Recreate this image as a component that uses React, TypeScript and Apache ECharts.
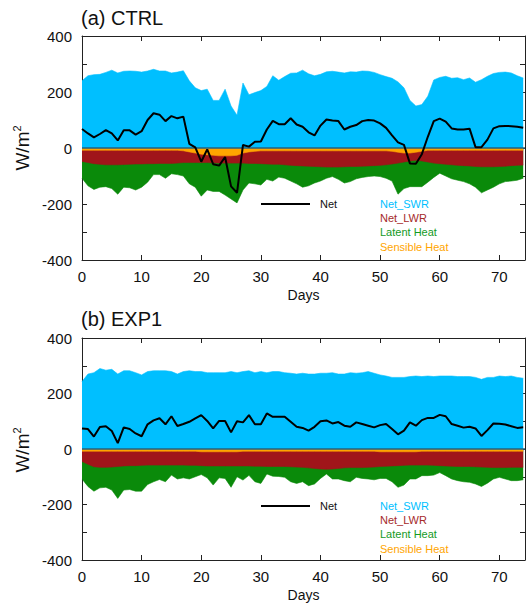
import React, { useEffect, useRef } from "react";
import * as echarts from "echarts";

// ---------- data (W/m^2), one value per day ----------
const days: number[] = Array.from({ length: 75 }, (_, i) => i);

// (a) CTRL
const swrA = [240,258,262,263,270,278,268,274,275,274,271,275,281,275,275,268,271,276,240,215,205,210,170,170,210,150,117,232,190,198,205,220,258,242,255,267,268,278,265,258,263,272,274,271,268,272,271,275,274,270,262,255,249,236,215,170,150,155,185,243,252,256,249,251,244,250,235,244,256,266,270,271,268,258,250];
const shA = [-8,-8,-8,-8,-8,-8,-8,-8,-8,-8,-8,-8,-8,-8,-8,-8,-8,-10,-14,-18,-22,-24,-26,-28,-28,-28,-26,-18,-14,-12,-10,-10,-10,-10,-10,-10,-10,-10,-10,-10,-10,-10,-10,-10,-10,-10,-10,-10,-10,-10,-10,-10,-12,-15,-18,-18,-15,-12,-8,-8,-8,-8,-8,-8,-8,-8,-8,-8,-8,-8,-8,-8,-8,-8,-8];
const lwrA = [-40,-44,-48,-50,-52,-52,-52,-51,-50,-49,-49,-48,-48,-47,-47,-47,-46,-42,-38,-34,-30,-28,-27,-26,-26,-26,-28,-36,-41,-43,-46,-47,-48,-48,-50,-52,-53,-54,-55,-56,-57,-58,-58,-58,-57,-56,-56,-55,-54,-53,-52,-50,-45,-39,-32,-28,-29,-34,-42,-46,-48,-50,-52,-54,-55,-56,-58,-59,-59,-59,-58,-57,-55,-54,-53];
const lhA = [-60,-83,-92,-82,-78,-85,-105,-81,-84,-93,-83,-66,-39,-40,-53,-37,-41,-48,-76,-88,-120,-98,-102,-101,-114,-128,-142,-96,-70,-73,-76,-55,-60,-46,-48,-56,-65,-76,-70,-59,-51,-40,-34,-44,-58,-54,-44,-40,-38,-37,-40,-48,-61,-111,-95,-92,-94,-92,-72,-51,-34,-42,-50,-53,-57,-64,-74,-93,-83,-73,-62,-55,-55,-53,-47];
const netA = [68,52,38,50,64,52,27,63,63,48,60,100,124,119,96,114,106,112,15,2,-49,-5,-58,-63,-32,-137,-160,11,5,22,23,66,97,85,85,106,84,76,56,45,80,102,98,96,66,76,82,96,100,98,88,72,45,20,11,-55,-56,-22,40,96,105,94,70,66,66,69,3,3,30,70,78,79,78,76,72];

// (b) EXP1
const swrB = [243,270,275,290,284,287,270,282,282,275,267,279,282,282,282,279,270,279,282,279,279,275,275,275,275,279,275,279,282,275,279,275,279,279,275,273,270,273,270,270,273,273,275,270,270,275,273,275,279,273,267,263,258,258,258,261,263,261,263,261,263,263,263,261,261,261,258,251,258,258,263,261,263,258,255];
const shB = [-8,-8,-8,-8,-8,-8,-8,-8,-8,-8,-8,-8,-8,-8,-8,-8,-8,-8,-8,-8,-10,-10,-10,-10,-10,-10,-10,-8,-8,-8,-8,-8,-8,-8,-8,-8,-8,-8,-8,-8,-8,-8,-8,-8,-8,-8,-8,-8,-8,-8,-10,-10,-10,-10,-10,-10,-10,-8,-8,-8,-8,-8,-8,-8,-8,-8,-8,-8,-8,-8,-8,-8,-8,-8,-8];
const lwrB = [-37,-47,-56,-58,-58,-57,-55,-53,-52,-52,-51,-50,-50,-50,-50,-50,-50,-50,-51,-51,-50,-51,-51,-51,-51,-51,-51,-53,-53,-54,-54,-55,-55,-55,-55,-56,-57,-58,-60,-62,-64,-65,-64,-62,-60,-59,-59,-59,-58,-57,-53,-52,-51,-50,-49,-48,-48,-50,-50,-51,-52,-53,-54,-55,-55,-55,-56,-57,-58,-59,-59,-59,-58,-58,-58];
const lhB = [-63,-80,-88,-74,-72,-83,-115,-87,-86,-92,-93,-70,-60,-52,-60,-36,-50,-46,-49,-41,-32,-43,-69,-43,-45,-77,-39,-51,-34,-56,-62,-27,-35,-36,-39,-54,-59,-52,-64,-56,-34,-17,-36,-38,-46,-51,-35,-39,-42,-46,-43,-44,-57,-78,-71,-50,-50,-38,-38,-35,-25,-35,-46,-51,-55,-57,-62,-70,-57,-41,-35,-41,-48,-48,-45];
const netB = [74,72,45,79,82,65,21,78,72,56,46,89,103,111,89,118,83,90,98,110,122,101,74,101,101,60,100,96,122,89,89,128,116,116,116,98,80,76,66,80,100,103,92,97,84,80,96,90,84,78,86,90,72,53,66,96,84,104,112,112,123,118,90,84,77,80,74,47,68,92,91,88,82,76,78];

const yTicks = [-400, -200, 0, 200, 400];
const xTicks = [0, 10, 20, 30, 40, 50, 60, 70];

const FONT = "'Liberation Sans', Arial, Helvetica, sans-serif";
const C_SWR = "#00BFFF";
const C_LWR = "#A0151A";
const C_LH = "#0A8A0A";
const C_SH = "#FFA500";

const pairs = (v: number[]) => days.map((d, i) => [d, v[i]]);
// cumulative (stacked) lower bounds of the downward fluxes
const cum = (...arrs: number[][]) => days.map((_, i) => arrs.reduce((s, a) => s + a[i], 0));

export default function App() {
  const ref = useRef<HTMLDivElement>(null);
  useEffect(() => {
    if (!ref.current) return;
    const chart = echarts.init(ref.current, null, { renderer: "svg" });

    const grids = [
      { left: 82, top: 36, width: 445, height: 224 },
      { left: 82, top: 338, width: 445, height: 224 },
    ];

    const axisLine = { show: true, onZero: false, lineStyle: { color: "#222", width: 1 } };
    const tick = { show: true, inside: true, length: 5, lineStyle: { color: "#222", width: 1 } };

    const xAxes: any[] = [];
    const yAxes: any[] = [];
    grids.forEach((_, g) => {
      xAxes.push({
        type: "value", gridIndex: g, position: "bottom", min: 0, max: 74.3, interval: 10,
        axisLine, axisTick: tick, splitLine: { show: false },
        axisLabel: {
          show: true, margin: 9, fontSize: 15, color: "#111", fontFamily: FONT,
          formatter: (v: number) => (xTicks.includes(v) ? String(v) : ""),
        },
        name: "Days", nameLocation: "middle", nameGap: 28,
        nameTextStyle: { fontSize: 14, color: "#111", fontFamily: FONT },
      });
      xAxes.push({
        type: "value", gridIndex: g, position: "top", min: 0, max: 74.3, interval: 10,
        axisLine, axisTick: tick, splitLine: { show: false }, axisLabel: { show: false },
      });
      yAxes.push({
        type: "value", gridIndex: g, position: "left", min: -400, max: 400, interval: 100,
        axisLine, axisTick: tick, splitLine: { show: false },
        axisLabel: {
          show: true, margin: 10, fontSize: 15, color: "#111", fontFamily: FONT,
          formatter: (v: number) => (yTicks.includes(v) ? String(v) : ""),
        },
      });
      yAxes.push({
        type: "value", gridIndex: g, position: "right", min: -400, max: 400, interval: 100,
        axisLine, axisTick: tick, splitLine: { show: false }, axisLabel: { show: false },
      });
    });

    const panel = (g: number, swr: number[], sh: number[], lwr: number[], lh: number[], net: number[]) => {
      const xi = g * 2;
      const yi = g * 2;
      const area = (name: string, data: number[], color: string, z: number, extra: any = {}) => ({
        name, type: "line", xAxisIndex: xi, yAxisIndex: yi, data: pairs(data),
        symbol: "none", smooth: false,
        lineStyle: { width: 0.6, color }, itemStyle: { color },
        areaStyle: { color, opacity: 1, origin: 0 }, z, silent: true, ...extra,
      });
      return [
        area("Net_SWR", swr, C_SWR, 2),
        area("Latent Heat", cum(sh, lwr, lh), C_LH, 2),
        area("Net_LWR", cum(sh, lwr), C_LWR, 3),
        area("Sensible Heat", sh, C_SH, 4),
        {
          name: "Net", type: "line", xAxisIndex: xi, yAxisIndex: yi, data: pairs(net),
          symbol: "none", lineStyle: { color: "#000", width: 2 }, itemStyle: { color: "#000" }, z: 6, silent: true,
          markLine: {
            silent: true, symbol: "none", label: { show: false }, z: 5,
            lineStyle: { color: "#24607e", width: 1.5, type: "solid" },
            data: [{ yAxis: 0 }],
          },
        },
      ];
    };

    const legend = (zeroY: number) => {
      const y0 = zeroY + 56;
      const items: [string, string][] = [
        ["Net_SWR", "#00BFFF"],
        ["Net_LWR", "#A52A2A"],
        ["Latent Heat", "#149A1E"],
        ["Sensible Heat", "#FFA500"],
      ];
      return [
        { type: "line", shape: { x1: 261, y1: y0, x2: 310, y2: y0 }, style: { stroke: "#000", lineWidth: 2 }, silent: true },
        { type: "text", x: 320, y: y0, style: { text: "Net", fill: "#111", font: `11px ${FONT}`, align: "left", verticalAlign: "middle" }, silent: true },
        ...items.map(([t, c], i) => ({
          type: "text", x: 380, y: y0 + i * 14.2,
          style: { text: t, fill: c, font: `11px ${FONT}`, align: "left", verticalAlign: "middle" }, silent: true,
        })),
      ];
    };

    const yName = (cy: number) => ({
      type: "text", x: 22, y: cy, rotation: Math.PI / 2, silent: true,
      style: {
        text: "W/m{s|2}", align: "center", verticalAlign: "middle",
        font: `19px ${FONT}`, fill: "#111",
        rich: { s: { fontSize: 11, fontFamily: FONT, fill: "#111", verticalAlign: "top", lineHeight: 22 } },
      },
    });

    chart.setOption({
      animation: false,
      backgroundColor: "#fff",
      grid: grids,
      xAxis: xAxes,
      yAxis: yAxes,
      series: [
        ...panel(0, swrA, shA, lwrA, lhA, netA),
        ...panel(1, swrB, shB, lwrB, lhB, netB),
      ],
      graphic: [
        { type: "text", x: 81, y: 18, style: { text: "(a) CTRL", font: `20px ${FONT}`, fill: "#111", align: "left", verticalAlign: "middle" }, silent: true },
        { type: "text", x: 81, y: 319, style: { text: "(b) EXP1", font: `20px ${FONT}`, fill: "#111", align: "left", verticalAlign: "middle" }, silent: true },
        yName(148),
        yName(450),
        ...legend(148),
        ...legend(450),
      ],
    });
    return () => chart.dispose();
  }, []);

  return <div ref={ref} style={{ position: "absolute", left: 0, top: 0, width: 528, height: 603 }} />;
}
